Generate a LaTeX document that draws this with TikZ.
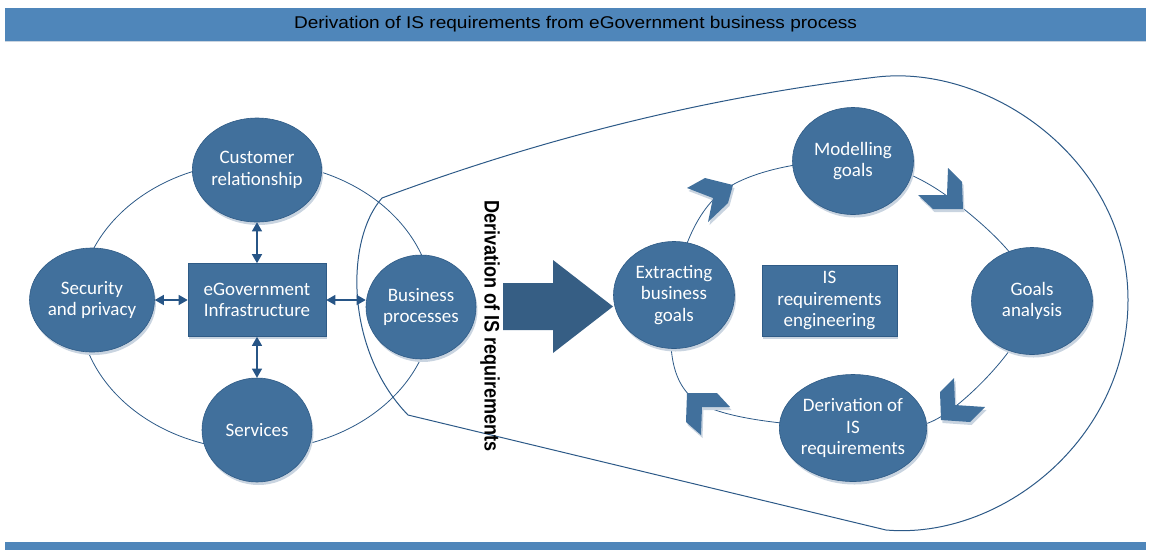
\documentclass[tikz,border=0pt]{standalone}
\usepackage{fontspec}
\setmainfont{Carlito}
\newfontfamily\arialf{Liberation Sans}
\usetikzlibrary{shapes.geometric,arrows.meta,shadows}
\definecolor{titlebar}{HTML}{4F86BA}
\definecolor{nodefill}{HTML}{41709C}
\definecolor{nodeline}{HTML}{2F5B86}
\definecolor{linec}{HTML}{2C5987}
\definecolor{arrowc}{HTML}{365E84}
\definecolor{shadowc}{HTML}{C9D4E0}
\definecolor{dblc}{HTML}{275586}
\begin{document}
\begin{tikzpicture}[x=1pt,y=-1pt,
  lbl/.style={text=white, align=center, font=\fontsize{19}{21.5}\selectfont},
  circ/.style={ellipse, lbl, fill=nodefill, draw=nodeline, line width=0.6pt, inner sep=0pt,
    minimum width=110pt, minimum height=104pt,
    drop shadow={shadow xshift=1.5pt, shadow yshift=-3pt, fill=shadowc, opacity=1}},
  bigcirc/.style={circ, minimum width=121pt, minimum height=107pt},
  boxn/.style={rectangle, lbl, fill=nodefill, draw=nodeline, line width=0.6pt, inner sep=0pt,
    drop shadow={shadow xshift=1pt, shadow yshift=-2.5pt, fill=shadowc, opacity=1}},
  thin/.style={draw=linec, line width=0.8pt},
  dbl/.style={draw=dblc, line width=1.3pt, {Triangle[length=9pt,width=10pt]}-{Triangle[length=9pt,width=10pt]}},
  chev/.style={fill=nodefill},
  chevsh/.style={fill=shadowc},
]
\useasboundingbox (0,0) rectangle (1149,550);
% bars
\node[fill=titlebar, minimum width=1141pt, minimum height=33pt, inner sep=0pt,
  font=\arialf\fontsize{17}{17}\selectfont] (title) at (575.5,24)
  {\scalebox{1.12}[1]{Derivation of IS requirements from eGovernment business process}};
\draw[shadowc, line width=1.2pt] ([yshift=-1pt]title.south west) -- ([yshift=-1pt]title.south east);
\node[fill=titlebar, minimum width=1141pt, minimum height=8pt, inner sep=0pt] (bottombar) at (575.5,546) {};

% left ellipse
\draw[thin] (256,306) ellipse [x radius=177, y radius=144];

% teardrop
\draw[linec, line width=1pt] (382,198) .. controls (543,138) and (708,97) .. (877,77)
  .. controls (990,64) and (1128,160) .. (1128,300)
  .. controls (1128,440) and (1000,540) .. (886,530)
  -- (408,415) .. controls (345,350) and (345,240) .. (382,198) -- cycle;

% right loop
\draw[thin] plot[smooth cycle, tension=0.6] coordinates {(674,295) (723,191) (853,161) (955,202) (1032,301) (948,412) (853,428) (695,400)};

% left nodes
\node[circ] (cust) at (257,170) {Customer\\relationship};
\node[circ] (sec) at (92,300) {Security\\and privacy};
\node[circ] (serv) at (257,430) {Services};
\node[circ] (bp) at (421,307) {Business\\processes};
\node[boxn, minimum width=138pt, minimum height=73pt] (egov) at (257,300) {eGovernment\\Infrastructure};

\draw[dbl] (egov) -- (cust);
\draw[dbl] (egov) -- (serv);
\draw[dbl] (egov.west) -- (sec.east);
\draw[dbl] (egov.east) -- (egov.east -| bp.west);

% big arrow
\fill[arrowc] (503,283) -- (553,283) -- (553,260) -- (613,306.5) -- (553,353) -- (553,330) -- (503,330) -- cycle;
\node[rotate=-90, font=\arialf\bfseries\fontsize{21}{21}\selectfont, inner sep=0pt] (vt) at (490,326)
  {\scalebox{0.86}[1]{Derivation of IS requirements}};

% chevrons
\begin{scope}[shift={(1.5,3)}]
\fill[chevsh] (733,185) -- (705,178) -- (687,188) -- (713,198) -- (708,222) -- (728,203) -- cycle;
\fill[chevsh] (948,168) -- (962,182) -- (963,209) -- (933,209) -- (918,195) -- (947,195) -- cycle;
\fill[chevsh] (954,378) -- (940,392) -- (941,420) -- (970,422) -- (985,407) -- (955,405) -- cycle;
\fill[chevsh] (687,393) -- (717,393) -- (730,407) -- (702,407) -- (701,435) -- (686,422) -- cycle;
\end{scope}
\fill[chev] (733,185) -- (705,178) -- (687,188) -- (713,198) -- (708,222) -- (728,203) -- cycle;
\fill[chev] (948,168) -- (962,182) -- (963,209) -- (933,209) -- (918,195) -- (947,195) -- cycle;
\fill[chev] (954,378) -- (940,392) -- (941,420) -- (970,422) -- (985,407) -- (955,405) -- cycle;
\fill[chev] (687,393) -- (717,393) -- (730,407) -- (702,407) -- (701,435) -- (686,422) -- cycle;

% right nodes
\node[bigcirc] (extr) at (674,295) {Extracting\\business\\goals};
\node[bigcirc] (model) at (853,161) {Modelling\\goals};
\node[bigcirc] (goals) at (1032,301) {Goals\\analysis};
\node[bigcirc] (deriv) at (853,428) {Derivation of\\IS\\requirements};
\node[boxn, minimum width=135pt, minimum height=71pt] (isre) at (829.5,300.5) {IS\\requirements\\engineering};
\end{tikzpicture}
\end{document}
